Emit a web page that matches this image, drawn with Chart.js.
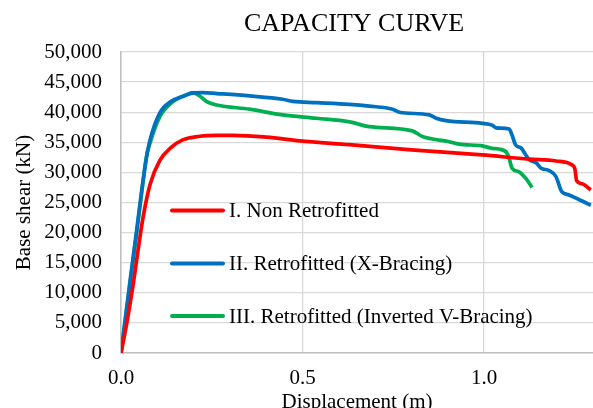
<!DOCTYPE html>
<html>
<head>
<meta charset="utf-8">
<script src="https://cdn.jsdelivr.net/npm/chart.js@4"></script>
<style>
  body { margin: 0; background: #fff; }
  canvas { display: block; }
</style>
</head>
<body>
<canvas id="capacityChart" width="593" height="408"></canvas>
<script>
// Displacement (m) / base shear (kN)
const nonRetroDisp  = [0, 0.016, 0.034, 0.047, 0.061, 0.080, 0.107, 0.135, 0.170, 0.217, 0.264, 0.308, 0.401, 0.492, 0.629, 0.800, 0.995, 1.124, 1.198, 1.242, 1.250, 1.255, 1.270, 1.294];
const nonRetroShear = [0, 5000, 11600, 17100, 22600, 28000, 32000, 34000, 35400, 36000, 36150, 36150, 35850, 35250, 34600, 33750, 32900, 32200, 31900, 31250, 30600, 28600, 28100, 27100];

const xBraceDisp  = [0, 0.025, 0.043, 0.057, 0.070, 0.080, 0.107, 0.135, 0.170, 0.198, 0.226, 0.264, 0.354, 0.445, 0.473, 0.538, 0.629, 0.684, 0.748, 0.767, 0.849, 0.868, 0.895, 0.995, 1.022, 1.033, 1.069, 1.077, 1.087, 1.102, 1.115, 1.124, 1.143, 1.157, 1.179, 1.198, 1.214, 1.234, 1.261, 1.294];
const xBraceShear = [0, 12000, 20300, 27000, 32400, 35400, 39900, 41700, 42600, 43200, 43250, 43100, 42700, 42150, 41800, 41600, 41300, 41000, 40500, 40000, 39550, 39000, 38600, 38150, 37850, 37400, 37200, 36200, 34550, 34050, 32900, 32100, 31600, 30700, 30300, 29300, 26800, 26250, 25500, 24550];

const invVDisp  = [0, 0.025, 0.043, 0.057, 0.070, 0.080, 0.107, 0.143, 0.184, 0.198, 0.217, 0.236, 0.264, 0.354, 0.445, 0.538, 0.629, 0.684, 0.802, 0.830, 0.904, 0.931, 0.995, 1.022, 1.060, 1.069, 1.077, 1.096, 1.115, 1.132];
const invVShear = [0, 11600, 19900, 26600, 32600, 34900, 39250, 41750, 43000, 43200, 42700, 41750, 41200, 40500, 39550, 39000, 38400, 37600, 36900, 35950, 35100, 34700, 34400, 34000, 33450, 32350, 30700, 30100, 29000, 27500];

const seriesLabels = ['I. Non Retrofitted', 'II. Retrofitted (X-Bracing)', 'III. Retrofitted (Inverted V-Bracing)'];
const seriesColors = ['#ff0000', '#0070c0', '#00b050'];
const chartTitle = 'CAPACITY CURVE';

function toPoints(xs, ys) {
    return xs.map((x, i) => ({ x: x, y: ys[i] }));
}

const serif = "'Liberation Serif', 'Times New Roman', serif";

// title centred over the plot area, legend drawn inside the plot with no box
const titleAndLegend = {
    id: 'titleAndLegend',
    afterDraw(chart) {
        const ctx = chart.ctx;
        const area = chart.chartArea;
        ctx.save();
        ctx.fillStyle = '#000';
        ctx.textBaseline = 'middle';
        ctx.textAlign = 'center';
        ctx.font = '26px ' + serif;
        ctx.fillText(chartTitle, (area.left + area.right) / 2 - 3, 24);

        const rows = [210.5, 263.5, 316];
        ctx.textAlign = 'left';
        ctx.font = '21px ' + serif;
        chart.data.datasets.forEach((ds, i) => {
            ctx.strokeStyle = ds.borderColor;
            ctx.lineWidth = 4;
            ctx.lineCap = 'round';
            ctx.beginPath();
            ctx.moveTo(172, rows[i]);
            ctx.lineTo(223, rows[i]);
            ctx.stroke();
            ctx.fillText(ds.label, 229, rows[i] + 1);
        });
        ctx.restore();
    }
};

const data = [
    toPoints(nonRetroDisp, nonRetroShear),
    toPoints(xBraceDisp, xBraceShear),
    toPoints(invVDisp, invVShear)
];

new Chart(document.getElementById('capacityChart'), {
    type: 'line',
    data: {
        datasets: data.map((pts, i) => ({
            label: seriesLabels[i],
            data: pts,
            borderColor: seriesColors[i],
            backgroundColor: seriesColors[i],
            borderWidth: 3.7,
            pointRadius: 0,
            cubicInterpolationMode: 'monotone',
            fill: false
        }))
    },
    options: {
        responsive: false,
        animation: false,
        layout: { padding: { top: 52, left: 0, right: 0, bottom: 0 } },
        plugins: {
            legend: { display: false },
            tooltip: { enabled: false },
            title: { display: false }
        },
        scales: {
            x: {
                type: 'linear',
                min: 0,
                max: 1.3,
                afterFit: function(scale) { scale.height = 55; },
                ticks: {
                    stepSize: 0.5,
                    includeBounds: false,
                    padding: 13,
                    color: '#000',
                    font: { family: serif, size: 21 },
                    callback: function(value) { return value.toFixed(1); }
                },
                grid: { color: '#d9d9d9', lineWidth: 1.3, drawTicks: false },
                border: { color: '#bfbfbf', width: 1.5 },
                title: {
                    display: true,
                    text: 'Displacement (m)',
                    color: '#000',
                    font: { family: serif, size: 21, lineHeight: 1 },
                    padding: { top: 0, bottom: -5 }
                }
            },
            y: {
                min: 0,
                max: 50000,
                afterFit: function(scale) { scale.width = 121; },
                ticks: {
                    stepSize: 5000,
                    padding: 19,
                    color: '#000',
                    font: { family: serif, size: 21 },
                    callback: function(value) { return value.toLocaleString('en-US'); }
                },
                grid: { color: '#d9d9d9', lineWidth: 1.3, drawTicks: false },
                border: { color: '#bfbfbf', width: 1.5 },
                title: {
                    display: true,
                    text: 'Base shear (kN)',
                    color: '#000',
                    font: { family: serif, size: 21 },
                    padding: { top: 12, bottom: 0 }
                }
            }
        }
    },
    plugins: [titleAndLegend]
});
</script>
</body>
</html>
